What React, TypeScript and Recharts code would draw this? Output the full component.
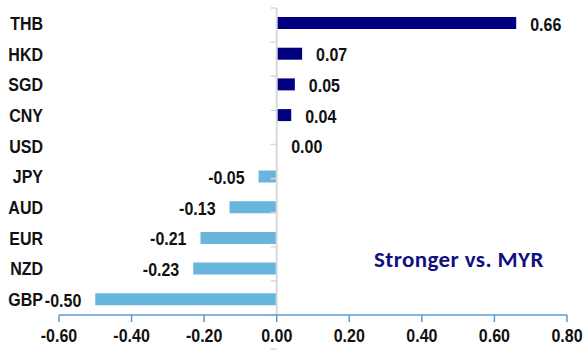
import React from 'react';
import { BarChart, Bar, XAxis, YAxis, ReferenceLine, Cell, LabelList } from 'recharts';

const categories = ['THB', 'HKD', 'SGD', 'CNY', 'USD', 'JPY', 'AUD', 'EUR', 'NZD', 'GBP'];
const values = [0.66, 0.07, 0.05, 0.04, 0.0, -0.05, -0.13, -0.21, -0.23, -0.5];
const xTicks = [-0.6, -0.4, -0.2, 0, 0.2, 0.4, 0.6, 0.8];
const boundaries = [0, 1, 2, 3, 4, 5, 6, 7, 8, 9, 10];
const note = 'Stronger vs. MYR';

const data = categories.map((c, i) => ({ name: c, value: values[i] }));

const POS = '#000080';
const NEG = '#68b5dd';
const FONT = '"Liberation Sans", Arial, sans-serif';
const STRETCH = 1.2;

const TallText = ({ x, y, anchor, baseline, dy, children }: any) => (
  <g transform={`translate(${x},${y}) scale(1,${STRETCH})`}>
    <text
      x={0}
      y={0}
      dy={dy}
      textAnchor={anchor}
      dominantBaseline={baseline}
      fontFamily={FONT}
      fontWeight="bold"
      fontSize={16}
      fill="#111"
    >
      {children}
    </text>
  </g>
);

const BarLabel = (props: any) => {
  const { x, y, width, height, value } = props;
  const left = Math.min(x, x + width);
  const right = Math.max(x, x + width);
  const neg = value < 0;
  return (
    <TallText
      x={neg ? left - 14 : right + 14}
      y={y + height / 2 + 1}
      anchor={neg ? 'end' : 'start'}
      baseline="central"
    >
      {Number(value).toFixed(2)}
    </TallText>
  );
};

const XTick = (props: any) => {
  const { x, y, payload } = props;
  return (
    <TallText x={x} y={y} anchor="middle" dy="0.71em">
      {Number(payload.value).toFixed(2)}
    </TallText>
  );
};

const YTick = (props: any) => {
  const { x, y, payload } = props;
  return (
    <TallText x={x} y={y} anchor="end" baseline="central">
      {payload.value}
    </TallText>
  );
};

export default function App() {
  return (
    <div style={{ position: 'absolute', left: 0, top: 0, width: 587, height: 351, background: '#fff' }}>
      <BarChart
        width={587}
        height={351}
        data={data}
        layout="vertical"
        margin={{ top: 8, right: 20, bottom: 0, left: 0 }}
        barSize={12}
      >
        <XAxis
          type="number"
          domain={[-0.6, 0.8]}
          ticks={xTicks}
          axisLine={{ stroke: '#5b9bd5', strokeWidth: 1.5 }}
          tickLine={{ stroke: '#5b9bd5', strokeWidth: 1.5 }}
          tickSize={7}
          tickMargin={6}
          height={36}
          interval={0}
          tick={XTick}
        />
        <YAxis
          type="category"
          dataKey="name"
          width={59}
          axisLine={false}
          tickLine={false}
          tickSize={6}
          tickMargin={10}
          interval={0}
          tick={YTick}
        />
        <YAxis yAxisId="grid" type="number" domain={[0, 10]} hide />
        <ReferenceLine x={0} stroke="#d9d9d9" strokeWidth={2} ifOverflow="visible" />
        {boundaries.map((k) => (
          <ReferenceLine
            key={k}
            yAxisId="grid"
            segment={[{ x: -0.017, y: k }, { x: 0, y: k }]}
            stroke="#d9d9d9"
            strokeWidth={1.5}
            ifOverflow="visible"
          />
        ))}
        <Bar
          dataKey="value"
          isAnimationActive={false}
          minPointSize={(v: number) => (v === 0 ? 0.5 : 0)}
        >
          {data.map((d, i) => (
            <Cell key={i} fill={d.value > 0 ? POS : d.value < 0 ? NEG : 'none'} />
          ))}
          <LabelList dataKey="value" content={BarLabel} />
        </Bar>
      </BarChart>
      <div
        style={{
          position: 'absolute',
          left: 374,
          top: 247,
          fontFamily: 'Carlito, Lato, "Open Sans", sans-serif',
          fontWeight: 'bold',
          fontSize: 23,
          letterSpacing: 0.4,
          color: '#10107f',
          whiteSpace: 'nowrap',
          lineHeight: '24px',
        }}
      >
        {note}
      </div>
    </div>
  );
}
